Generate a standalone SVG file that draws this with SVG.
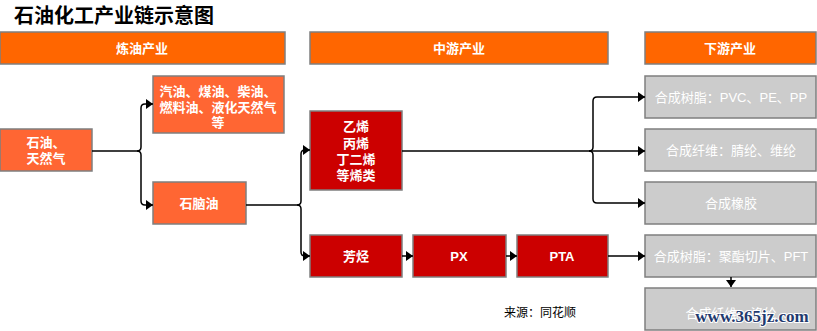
<svg xmlns="http://www.w3.org/2000/svg" width="817" height="331" viewBox="0 0 817 331">
<defs>
<marker id="arr" markerUnits="userSpaceOnUse" markerWidth="8" markerHeight="11" refX="7" refY="5" orient="auto">
<path d="M0,0 L7,5 L0,10 z" fill="#000"/>
</marker>
<style>
.hdr{fill:#FF6600;stroke:#7F7F7F;stroke-width:1.5}
.or{fill:#FF6633;stroke:#7F7F7F;stroke-width:1.5}
.rd{fill:#CC0000;stroke:#7F7F7F;stroke-width:1.5}
.gr{fill:#CCCCCC;stroke:#7F7F7F;stroke-width:1.5}
text{font-family:"Liberation Sans","Noto Sans CJK SC",sans-serif;font-size:13px;text-anchor:middle}
.w{fill:#fff;font-weight:bold}
.wn{fill:#fff}
.c{fill:none;stroke:#000;stroke-width:1.5}
</style>
</defs>
<rect width="817" height="331" fill="#fff"/>
<text x="14" y="23" style="font-size:20px;font-weight:bold;text-anchor:start" fill="#000">石油化工产业链示意图</text>

<g id="hdr1"><rect class="hdr" x="0" y="32" width="285" height="32"/><text class="w" x="142" y="53">炼油产业</text></g>
<g id="hdr2"><rect class="hdr" x="310" y="32" width="298" height="32"/><text class="w" x="459" y="53">中游产业</text></g>
<g id="hdr3"><rect class="hdr" x="645" y="32" width="171" height="32"/><text class="w" x="730" y="53">下游产业</text></g>

<g id="crude"><rect class="or" x="0" y="129" width="92" height="42"/><text class="w" x="46" y="147">石油、</text><text class="w" x="46" y="163">天然气</text></g>
<g id="fuels"><rect class="or" x="153" y="76" width="131" height="57"/><text class="w" x="218" y="96">汽油、煤油、柴油、</text><text class="w" x="218" y="112">燃料油、液化天然气</text><text class="w" x="218" y="127">等</text></g>
<g id="naphtha"><rect class="or" x="153" y="182" width="93" height="42"/><text class="w" x="199" y="208">石脑油</text></g>

<g id="olefins"><rect class="rd" x="310" y="111" width="92" height="79"/><text class="w" x="356" y="131">乙烯</text><text class="w" x="356" y="148">丙烯</text><text class="w" x="356" y="164">丁二烯</text><text class="w" x="356" y="180">等烯类</text></g>
<g id="aromatics"><rect class="rd" x="310" y="235" width="92" height="42"/><text class="w" x="356" y="261">芳烃</text></g>
<g id="px"><rect class="rd" x="413" y="235" width="93" height="42"/><text class="w" x="459" y="261">PX</text></g>
<g id="pta"><rect class="rd" x="517" y="235" width="91" height="42"/><text class="w" x="562" y="261">PTA</text></g>

<g id="resin1"><rect class="gr" x="645" y="76" width="171" height="42"/><text class="wn" x="731" y="102">合成树脂：PVC、PE、PP</text></g>
<g id="fiber1"><rect class="gr" x="645" y="129" width="171" height="42"/><text class="wn" x="731" y="155">合成纤维：腈纶、维纶</text></g>
<g id="rubber"><rect class="gr" x="645" y="182" width="171" height="42"/><text class="wn" x="731" y="208">合成橡胶</text></g>
<g id="resin2"><rect class="gr" x="645" y="235" width="171" height="42"/><text class="wn" x="731" y="261">合成树脂：聚酯切片、PFT</text></g>
<g id="fiber2"><rect class="gr" x="645" y="288" width="171" height="42"/><text class="wn" x="731" y="318">合成纤维：涤纶</text></g>

<g id="connectors">
<path class="c" d="M92,151 H137 Q141,151 141,147 V108 Q141,104 145,104 H153" marker-end="url(#arr)"/>
<path class="c" d="M137,151 Q141,151 141,155 V201 Q141,205 145,205 H153" marker-end="url(#arr)"/>
<path class="c" d="M246,205 H297 Q301,205 301,201 V154 Q301,150 305,150 H310" marker-end="url(#arr)"/>
<path class="c" d="M297,205 Q301,205 301,209 V252 Q301,256 305,256 H310" marker-end="url(#arr)"/>
<path class="c" d="M402,151 H589 Q593,151 593,147 V101 Q593,97 597,97 H645" marker-end="url(#arr)"/>
<path class="c" d="M589,151 H645" marker-end="url(#arr)"/>
<path class="c" d="M589,151 Q593,151 593,155 V199 Q593,203 597,203 H645" marker-end="url(#arr)"/>
<path class="c" d="M402,256 H413" marker-end="url(#arr)"/>
<path class="c" d="M506,256 H517" marker-end="url(#arr)"/>
<path class="c" d="M608,256 H645" marker-end="url(#arr)"/>
<path class="c" d="M731,277 V287" marker-end="url(#arr)"/>
</g>

<text x="540" y="317" fill="#000" style="font-size:12px">来源：同花顺</text>
<text x="752" y="322" style="font-family:'Liberation Serif','DejaVu Serif',serif;font-size:17px;font-weight:bold;fill:#1F3A6E;stroke:#fff;stroke-width:2;paint-order:stroke">www.365jz.com</text>
</svg>
